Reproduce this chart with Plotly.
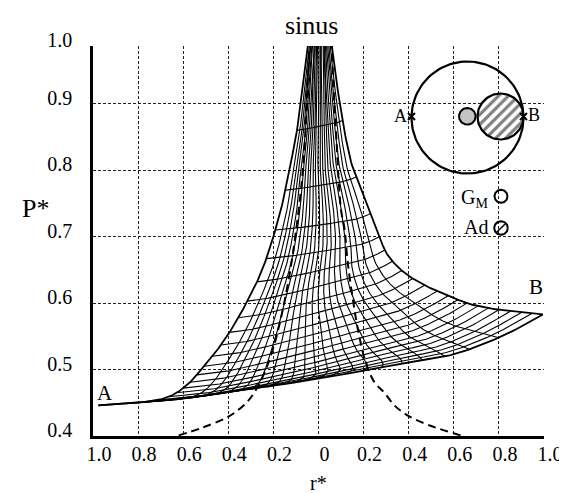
import numpy as np
import plotly.graph_objects as go

# ---------------- text / ticks ----------------
TITLE = "sinus"
X_LABEL = "r*"
Y_LABEL = "P*"
X_TICK_VALS = [-1.0, -0.8, -0.6, -0.4, -0.2, 0.0, 0.2, 0.4, 0.6, 0.8, 1.0]
X_TICK_TEXT = ["1.0", "0.8", "0.6", "0.4", "0.2", "0", "0.2", "0.4", "0.6", "0.8", "1.0"]
Y_TOP = 0.987          # the top frame line of the original figure (labelled 1.0)
Y_TICK_VALS = [0.4, 0.5, 0.6, 0.7, 0.8, 0.9, Y_TOP]
Y_TICK_TEXT = ["0.4", "0.5", "0.6", "0.7", "0.8", "0.9", "1.0"]

# ---------------- mesh boundaries ----------------
# left outer boundary, from A up to the top
LB_R = [-0.976, -0.90, -0.80, -0.70, -0.60, -0.52, -0.41, -0.32, -0.25, -0.20, -0.16, -0.13, -0.10, -0.08, -0.06, -0.046, -0.035]
LB_Y = [0.446, 0.4475, 0.450, 0.455, 0.472, 0.500, 0.548, 0.600, 0.650, 0.700, 0.750, 0.800, 0.850, 0.900, 0.950, 0.987, 1.10]
# right outer boundary, from B up to the top
RB_R = [0.995, 0.90, 0.80, 0.70, 0.575, 0.50, 0.40, 0.35, 0.30, 0.27, 0.22, 0.185, 0.155, 0.12, 0.095, 0.075, 0.06, 0.045]
RB_Y = [0.583, 0.586, 0.590, 0.596, 0.611, 0.622, 0.641, 0.655, 0.676, 0.700, 0.745, 0.775, 0.800, 0.850, 0.900, 0.945, 0.987, 1.10]
# lower boundary from A to B
LOB_R = [-0.976, -0.8, -0.6, -0.4, -0.2, 0.0, 0.2, 0.4, 0.575, 0.8, 0.995]
LOB_Y = [0.446, 0.450, 0.457, 0.466, 0.475, 0.487, 0.498, 0.511, 0.521, 0.548, 0.583]
# upper (off-chart) edge
TOP_Y = 1.10
TOP_R_LEFT = -0.035
TOP_R_RIGHT = 0.045

# where the cross lines meet the left / right boundaries (P*)
LB_NODE_Y = [0.446, 0.4485, 0.451, 0.4545, 0.459, 0.465, 0.472, 0.481, 0.492, 0.505, 0.52,
             0.537, 0.556, 0.578, 0.603, 0.632, 0.667, 0.71, 0.77, 0.86, 1.10]
RB_NODE_Y = [0.583, 0.5845, 0.586, 0.5878, 0.590, 0.5925, 0.5955, 0.600, 0.605, 0.611, 0.618,
             0.627, 0.637, 0.649, 0.663, 0.68, 0.70, 0.735, 0.79, 0.875, 1.10]
# where the steep lines meet the lower boundary (r*)
LOB_NODE_R = [-0.976, -0.80, -0.72, -0.65, -0.58, -0.51, -0.44, -0.37, -0.30, -0.23, -0.16, -0.09,
              -0.02, 0.05, 0.12, 0.20, 0.28, 0.37, 0.46, 0.56, 0.67, 0.80, 0.995]

# dashed curves
DASH_L_R = [-0.62, -0.52, -0.40, -0.32, -0.28, -0.24, -0.20, -0.165, -0.13, -0.10, -0.075, -0.06, -0.048, -0.04]
DASH_L_Y = [0.401, 0.412, 0.429, 0.450, 0.468, 0.495, 0.533, 0.580, 0.640, 0.708, 0.780, 0.845, 0.93, 0.99]
DASH_R_R = [0.63, 0.50, 0.40, 0.34, 0.29, 0.25, 0.21, 0.175, 0.155, 0.13, 0.115, 0.10, 0.08, 0.066, 0.058]
DASH_R_Y = [0.401, 0.415, 0.430, 0.445, 0.466, 0.480, 0.51, 0.56, 0.60, 0.66, 0.713, 0.74, 0.843, 0.93, 0.99]

# point labels
LABEL_A = ("A", -0.948, 0.465)
LABEL_B = ("B", 0.963, 0.624)


# ---------------- helpers ----------------
def pchip(xq, xs, ys):
    """monotone cubic (PCHIP) interpolation through read points"""
    xs = np.asarray(xs, float); ys = np.asarray(ys, float); xq = np.asarray(xq, float)
    h = np.diff(xs); d = np.diff(ys) / h
    m = np.zeros_like(ys)
    for k in range(1, len(xs) - 1):
        if d[k - 1] * d[k] > 0:
            w1 = 2 * h[k] + h[k - 1]; w2 = h[k] + 2 * h[k - 1]
            m[k] = (w1 + w2) / (w1 / d[k - 1] + w2 / d[k])
    m[0] = d[0]; m[-1] = d[-1]
    xq = np.clip(xq, xs[0], xs[-1])
    idx = np.clip(np.searchsorted(xs, xq) - 1, 0, len(xs) - 2)
    t = (xq - xs[idx]) / h[idx]
    h00 = 2 * t**3 - 3 * t**2 + 1; h10 = t**3 - 2 * t**2 + t
    h01 = -2 * t**3 + 3 * t**2; h11 = t**3 - t**2
    return h00 * ys[idx] + h10 * h[idx] * m[idx] + h01 * ys[idx + 1] + h11 * h[idx] * m[idx + 1]


m_v = len(LB_NODE_Y)
n_u = len(LOB_NODE_R)
vj = np.linspace(0, 1, m_v)
ui = np.linspace(0, 1, n_u)


def L(v):
    y = pchip(v, vj, LB_NODE_Y)
    return pchip(y, LB_Y, LB_R), y


def R(v):
    y = pchip(v, vj, RB_NODE_Y)
    return pchip(y, RB_Y, RB_R), y


def Bot(u):
    r = pchip(u, ui, LOB_NODE_R)
    return r, pchip(r, LOB_R, LOB_Y)


def Top(u):
    u = np.asarray(u, dtype=float)
    return TOP_R_LEFT + u * (TOP_R_RIGHT - TOP_R_LEFT), np.full_like(u, TOP_Y)


def point(fn, t):
    a, b = fn(np.array([t]))
    return np.array([a[0], b[0]])


A0 = point(L, 0.0); B0 = point(R, 0.0); TL = point(L, 1.0); TR = point(R, 1.0)


def patch(u, v):
    u = np.asarray(u, dtype=float); v = np.asarray(v, dtype=float)
    Lr, Ly = L(v); Rr, Ry = R(v); Br, By = Bot(u); Tr, Ty = Top(u)
    out = []
    for k, (l, rr, b, t) in enumerate([(Lr, Rr, Br, Tr), (Ly, Ry, By, Ty)]):
        corr = ((1 - u) * (1 - v) * A0[k] + u * (1 - v) * B0[k]
                + (1 - u) * v * TL[k] + u * v * TR[k])
        out.append((1 - u) * l + u * rr + (1 - v) * b + v * t - corr)
    return out


fine = np.linspace(0, 1, 300)
mesh_x, mesh_y = [], []
for u in ui[1:-1]:
    x, y = patch(np.full_like(fine, u), fine)
    mesh_x += list(x) + [None]; mesh_y += list(y) + [None]
for v in vj[1:-1]:
    x, y = patch(fine, np.full_like(fine, v))
    mesh_x += list(x) + [None]; mesh_y += list(y) + [None]

edge_x, edge_y = [], []
for x, y in [patch(np.zeros_like(fine), fine), patch(np.ones_like(fine), fine),
             patch(fine, np.zeros_like(fine))]:
    edge_x += list(x) + [None]; edge_y += list(y) + [None]

FONT = "Liberation Serif"
fig = go.Figure()
fig.add_trace(go.Scatter(x=mesh_x, y=mesh_y, mode="lines",
                         line=dict(color="black", width=1.1), hoverinfo="skip"))
fig.add_trace(go.Scatter(x=edge_x, y=edge_y, mode="lines",
                         line=dict(color="black", width=1.8), hoverinfo="skip"))
fig.add_trace(go.Scatter(x=DASH_L_R, y=DASH_L_Y, mode="lines", line_shape="spline",
                         line=dict(color="black", width=2, dash="8px,5px"), hoverinfo="skip"))
fig.add_trace(go.Scatter(x=DASH_R_R, y=DASH_R_Y, mode="lines", line_shape="spline",
                         line=dict(color="black", width=2, dash="8px,5px"), hoverinfo="skip"))

# ---------------- inset (drawn in figure-pixel units on overlay axes) ----------------
PLOT_L, PLOT_R, PLOT_T, PLOT_B = 85, 536, 38, 428
th = np.linspace(0, 2 * np.pi, 120)


def circ(cx, cy, r):
    return list(cx + r * np.cos(th)), list(cy + r * np.sin(th))


BIG = (459.5, 109.5, 56)
DOT = (459.3, 108.3, 8.3)
HATCH = (492.5, 108.5, 23)
GM_C = (493, 188.3, 6.5)
AD_C = (493, 220, 6.8)

x, y = circ(*BIG)
fig.add_trace(go.Scatter(x=x, y=y, xaxis="x2", yaxis="y2", mode="lines",
                         line=dict(color="black", width=2.2), hoverinfo="skip"))
x, y = circ(*DOT)
fig.add_trace(go.Scatter(x=x, y=y, xaxis="x2", yaxis="y2", mode="lines", fill="toself",
                         fillcolor="#c4c4c4", line=dict(color="black", width=2), hoverinfo="skip"))
x, y = circ(*HATCH)
fig.add_trace(go.Scatter(x=x, y=y, xaxis="x2", yaxis="y2", mode="lines", fill="toself",
                         fillcolor="white",
                         fillpattern=dict(shape="/", fgcolor="black", bgcolor="white", size=7, solidity=0.45),
                         line=dict(color="black", width=2.2), hoverinfo="skip"))
x, y = circ(*GM_C)
fig.add_trace(go.Scatter(x=x, y=y, xaxis="x2", yaxis="y2", mode="lines",
                         line=dict(color="black", width=2), hoverinfo="skip"))
x, y = circ(*AD_C)
fig.add_trace(go.Scatter(x=x, y=y, xaxis="x2", yaxis="y2", mode="lines",
                         line=dict(color="black", width=2), hoverinfo="skip"))
s = AD_C[2] * 0.6
fig.add_trace(go.Scatter(x=[AD_C[0] - s, AD_C[0] + s], y=[AD_C[1] + s, AD_C[1] - s],
                         xaxis="x2", yaxis="y2", mode="lines",
                         line=dict(color="black", width=1.5), hoverinfo="skip"))
fig.add_trace(go.Scatter(x=[BIG[0] - BIG[2], BIG[0] + BIG[2]], y=[BIG[1] - 1, BIG[1] - 1],
                         xaxis="x2", yaxis="y2", mode="markers",
                         marker=dict(symbol="x-thin", size=7, line=dict(color="black", width=2)),
                         hoverinfo="skip"))

ann = []
ann.append(dict(text="A", x=BIG[0] - BIG[2] - 3, y=BIG[1] - 2, xref="x2", yref="y2",
                xanchor="right", yanchor="middle", showarrow=False, font=dict(size=18)))
ann.append(dict(text="B", x=BIG[0] + BIG[2] + 2, y=BIG[1] - 3, xref="x2", yref="y2",
                xanchor="left", yanchor="middle", showarrow=False, font=dict(size=18)))
ann.append(dict(text="G<sub>M</sub>", x=482, y=GM_C[1] + 2, xref="x2", yref="y2",
                xanchor="right", yanchor="middle", showarrow=False, font=dict(size=20)))
ann.append(dict(text="Ad", x=482, y=AD_C[1] - 1, xref="x2", yref="y2",
                xanchor="right", yanchor="middle", showarrow=False, font=dict(size=20)))
for t, xx, yy in [LABEL_A, LABEL_B]:
    ann.append(dict(text=t, x=xx, y=yy, xref="x", yref="y", showarrow=False,
                    xanchor="center", yanchor="middle", font=dict(size=21)))
ann.append(dict(text=TITLE, x=-0.03, y=1, xref="x", yref="paper", yanchor="middle",
                yshift=21, showarrow=False, font=dict(size=26)))
ann.append(dict(text=Y_LABEL, x=0, xref="paper", xshift=-58, y=0.743, yref="y",
                xanchor="center", yanchor="middle", showarrow=False, font=dict(size=26)))
ann.append(dict(text=X_LABEL, x=0, xref="x", y=0, yref="paper", yshift=-60,
                yanchor="bottom", showarrow=False, font=dict(size=20)))

grid = dict(showgrid=True, gridcolor="#222222", gridwidth=1, griddash="3px,2px", zeroline=False)
fig.update_layout(
    width=567, height=493,
    margin=dict(l=PLOT_L, r=567 - PLOT_R, t=PLOT_T, b=493 - PLOT_B),
    paper_bgcolor="white", plot_bgcolor="white", showlegend=False,
    font=dict(family=FONT, size=20, color="black"),
    xaxis=dict(range=[-1, 1], tickvals=X_TICK_VALS, ticktext=X_TICK_TEXT, ticks="",
               showline=True, linecolor="black", linewidth=2.5, ticklabelshift=6,
               ticklabelstandoff=-2, **grid),
    yaxis=dict(range=[0.4, Y_TOP], tickvals=Y_TICK_VALS, ticktext=Y_TICK_TEXT, ticks="",
               showline=True, linecolor="black", linewidth=2.5, ticklabelshift=-6,
               ticklabelstandoff=14, **grid),
    xaxis2=dict(overlaying="x", anchor="y2", range=[PLOT_L, PLOT_R], visible=False),
    yaxis2=dict(overlaying="y", anchor="x2", range=[PLOT_B, PLOT_T], visible=False),
    annotations=ann,
)
fig.write_html("out.html")
